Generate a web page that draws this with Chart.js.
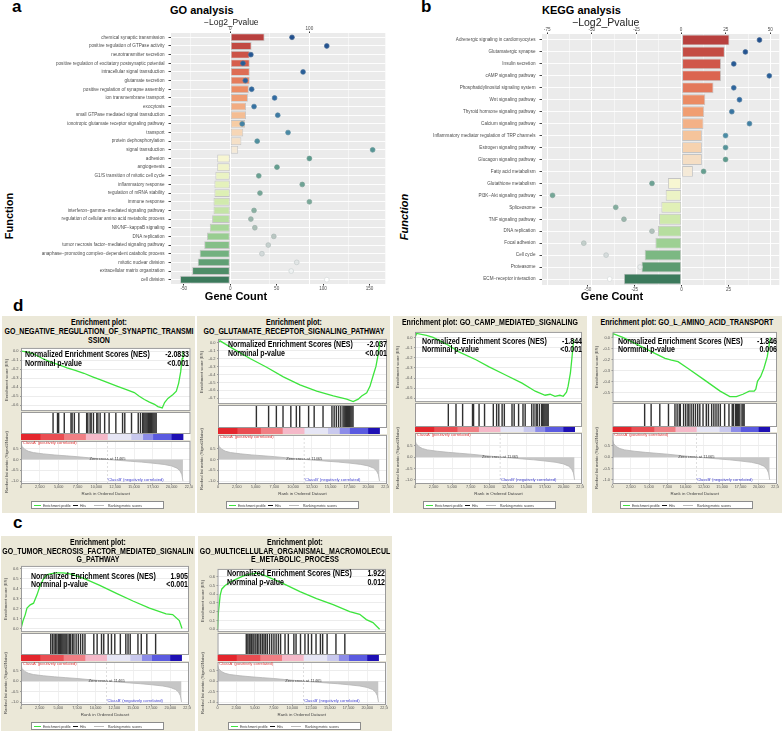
<!DOCTYPE html>
<html>
<head>
<meta charset="utf-8">
<title>GO / KEGG / GSEA</title>
<script src="https://cdn.jsdelivr.net/npm/chart.js@4.4.1/dist/chart.umd.min.js"></script>
<style>
  body { margin: 0; background: #fff; font-family: "Liberation Sans", Arial, sans-serif; }
  #page { position: relative; width: 784px; height: 731px; overflow: hidden; background: #fff; }
  .t { position: absolute; white-space: nowrap; line-height: 1; }
  .box { position: absolute; background: #ebe8d8; overflow: hidden; }
  canvas { position: absolute; }
  .lg { position: absolute; height: 6px; background: #fff; border: 1px solid #8c8c8c; }
  .sw { position: absolute; top: 3px; height: 0; border-top: 1px solid; }
</style>
</head>
<body>
<div id="page"></div>
<script>
// ---- panel a : GO analysis ----
const goTerms = ["chemical synaptic transmission", "positive regulation of GTPase activity", "neurotransmitter secretion",
  "positive regulation of excitatory postsynaptic potential", "intracellular signal transduction", "glutamate secretion",
  "positive regulation of synapse assembly", "ion transmembrane transport", "exocytosis",
  "small GTPase mediated signal transduction", "ionotropic glutamate receptor signaling pathway", "transport",
  "protein dephosphorylation", "signal transduction", "adhesion", "angiogenesis", "G1/S transition of mitotic cell cycle",
  "inflammatory response", "regulation of mRNA stability", "immune response", "interferon−gamma−mediated signaling pathway",
  "regulation of cellular amino acid metabolic process", "NIK/NF−kappaB signaling", "DNA replication",
  "tumor necrosis factor−mediated signaling pathway", "anaphase−promoting complex−dependent catabolic process",
  "mitotic nuclear division", "extracellular matrix organization", "cell division"];
const goGeneCount = [37, 23, 21, 21, 21, 21, 20, 19, 17, 17, 16, 14, 12, 8.5,
  -14, -14, -16, -17, -17, -18, -18, -19.5, -22, -25, -28, -33, -35, -41, -54];
const goLog2P = [78, 122, 26, 16, 92, 19, 27, 56, 30, 60, 15, 73, 34, 180,
  100, 59, 36, 91, 37.5, 100, 30, 26, 31, 55, 48, 40, 84, 77, 122];
const goGeneTicks = [-50, 0, 50, 100, 150];
const goPvalTicks = [0, 100];
const goPvalGrid = [-50, 0, 50, 100, 150];

// ---- panel b : KEGG analysis ----
const keggTerms = ["Adrenergic signaling in cardiomyocytes", "Glutamatergic synapse", "Insulin secretion",
  "cAMP signaling pathway", "Phosphatidylinositol signaling system", "Wnt signaling pathway",
  "Thyroid hormone signaling pathway", "Calcium signaling pathway", "Inflammatory mediator regulation of TRP channels",
  "Estrogen signaling pathway", "Glucagon signaling pathway", "Fatty acid metabolism", "Glutathione metabolism",
  "PI3K−Akt signaling pathway", "Spliceosome", "TNF signaling pathway", "DNA replication", "Focal adhesion",
  "Cell cycle", "Proteasome", "ECM−receptor interaction"];
const keggGeneCount = [25.5, 23, 21, 21, 17, 12.6, 12, 11.7, 10.8, 10.8, 10.8, 6,
  -7.3, -8.5, -10.8, -12, -12.6, -14, -19.7, -21.4, -30.8];
const keggLog2P = [43.9, 36, 29.5, 49.4, 29.5, 32.7, 28.4, 38.3, 24.9, 24.9, 24.9, 12.6,
  -16.3, -72, -36.6, -32, -16.3, -54.5, -42, -23, -40];
const keggGeneTicks = [-50, -25, 0, 25];
const keggPvalTicks = [-75, -50, -25, 0, 25, 50];
const keggPvalGrid = [-75, -62.5, -50, -37.5, -25, -12.5, 0, 12.5, 25, 37.5, 50];

// ---- GSEA : shared ranked list ----
const rankTicks = [0, 2500, 5000, 7500, 10000, 12500, 15000, 17500, 20000, 22500];
const metricRank = [0, 150, 500, 1000, 1650, 3000, 4500, 6000, 7500, 9000, 10500, 11465, 13000, 14500, 16000, 17500, 19000, 20000, 20700, 21100, 21350, 21500];
const metricScore = [0.75, 0.6, 0.47, 0.38, 0.32, 0.26, 0.21, 0.17, 0.13, 0.08, 0.03, 0, -0.04, -0.08, -0.12, -0.17, -0.23, -0.3, -0.4, -0.52, -0.7, -1.0];
const metricTicks = [0.5, 0, -0.5, -1];
const zeroCross = 11465;
const cbEdges = [0, 2540, 5670, 8570, 11470, 14600, 16160, 17500, 19950, 21510];
const cbColors = ['#e4262d', '#ea4d52', '#f07f84', '#f5b9c9', '#e6e6f5', '#c9c9ee', '#8c8ce8', '#5a5ae0', '#1e10b4'];

// d1 negative regulation of synaptic transmission
const negSynRank = [0, 760, 1650, 2800, 3880, 5000, 6120, 7200, 8350, 9500, 10580, 11700, 12810, 13900, 15040, 15700, 16380, 17050, 17720, 18170, 18750, 19060, 19500, 20180, 20620, 20930, 21200, 21380, 21500];
const negSynES = [0, -0.01, -0.03, -0.08, -0.12, -0.15, -0.185, -0.215, -0.246, -0.285, -0.32, -0.355, -0.39, -0.425, -0.46, -0.5, -0.536, -0.565, -0.59, -0.615, -0.63, -0.57, -0.525, -0.48, -0.445, -0.355, -0.228, -0.083, 0];
const negSynHits = [760, 1650, 1870, 2990, 4330, 4550, 5000, 5890, 7450, 7680, 8130, 8350, 8800, 9460, 9690, 10130, 11030, 11920, 13260, 14600, 15040, 16380, 17720, 18170, 18610, 18830, 19060, 19280, 19500, 19730, 19950, 20170, 20400, 20620, 20840, 21060, 21290];
// d2 glutamate receptor signaling
const glutRank = [0, 270, 2040, 4260, 6480, 8700, 10910, 13140, 15350, 17130, 18000, 18670, 19130, 19800, 20230, 20670, 21030, 21340, 21560];
const glutES = [0, 0.02, -0.08, -0.2, -0.31, -0.43, -0.53, -0.61, -0.67, -0.71, -0.74, -0.71, -0.67, -0.63, -0.55, -0.41, -0.3, -0.14, 0.02];
const glutHits = [2040, 4480, 6030, 7360, 8920, 10020, 10690, 12470, 13580, 15350, 17130, 17570, 18010, 18460, 18900, 19340, 19570, 19790, 20010, 20230, 20460, 20680, 20900, 21120, 21340];
// d3 cAMP mediated signaling
const campRank = [0, 220, 1550, 2440, 4220, 5990, 8210, 9980, 12200, 14420, 16200, 17530, 18200, 18860, 19530, 19970, 20410, 20630, 20940, 21160, 21390];
const campES = [0, 0.04, 0.02, 0, -0.065, -0.145, -0.22, -0.29, -0.37, -0.45, -0.53, -0.57, -0.56, -0.58, -0.57, -0.58, -0.54, -0.48, -0.35, -0.19, -0.015];
const campHits = [1110, 2660, 4000, 6000, 6210, 7320, 8430, 10200, 10870, 11310, 11980, 12430, 13980, 14420, 15310, 16200, 16640, 17970, 18410, 18860, 19080, 19520, 19970, 20190, 20410, 20630, 20850, 21070, 21290];
// d4 L amino acid transport
const aminoRank = [0, 80, 1410, 3630, 5860, 7190, 8070, 8960, 10290, 12510, 14720, 16050, 16940, 17830, 18710, 19380, 19600, 19830, 20270, 20710, 21160, 21380, 21600];
const aminoES = [0, 0.035, 0, -0.073, -0.147, -0.19, -0.206, -0.22, -0.28, -0.383, -0.487, -0.537, -0.537, -0.516, -0.487, -0.487, -0.47, -0.398, -0.354, -0.28, -0.177, -0.088, 0];
const aminoHits = [970, 2300, 4080, 5860, 7190, 7630, 8070, 8290, 8960, 9400, 9850, 10060, 10510, 10950, 11390, 11850, 12290, 12950, 13620, 14060, 14720, 15170, 15610, 16050, 16500, 17380, 18270, 18940, 19170, 19600, 19830, 20050, 20270, 20500, 20940, 21160, 21380];
// c1 tumor necrosis factor mediated signaling
const tnfRank = [0, 260, 570, 800, 1240, 1680, 2130, 2570, 3010, 3460, 3900, 4790, 5670, 6560, 8330, 10550, 12780, 14990, 17210, 19430, 20310, 21200, 21560];
const tnfES = [0, 0.075, 0.14, 0.206, 0.238, 0.255, 0.336, 0.434, 0.5, 0.54, 0.55, 0.56, 0.56, 0.55, 0.506, 0.434, 0.353, 0.277, 0.206, 0.147, 0.14, 0.08, 0];
const tnfHits = [350, 700, 1020, 1330, 1590, 1900, 2130, 2350, 2570, 2790, 3010, 3230, 3460, 3810, 4120, 4340, 4700, 5010, 5450, 5890, 6340, 6780, 7230, 9000, 9670, 10550, 11000, 11890, 12550, 13220, 14330, 15430, 15880, 16320, 17870, 18540, 19650, 21420];
// c2 multicellular organismal macromolecule metabolic process
const multiRank = [0, 130, 360, 580, 1020, 1690, 2580, 3460, 4350, 5240, 6120, 8790, 11010, 13230, 15440, 17660, 18990, 19880, 20760, 21650];
const multiES = [0, 0.2, 0.39, 0.46, 0.5, 0.54, 0.575, 0.61, 0.63, 0.64, 0.62, 0.52, 0.43, 0.35, 0.28, 0.2, 0.17, 0.11, 0.075, 0];
const multiHits = [140, 450, 720, 900, 1160, 1470, 1690, 2050, 2360, 2670, 3030, 3380, 3690, 4000, 4350, 4800, 5240, 5680, 6120, 6570, 7010, 7900, 8560, 9670, 10110, 11000, 11890, 12550, 13220, 14110, 14990, 15440, 16330, 18100, 19880];

Chart.defaults.font.family = '"Liberation Sans", Arial, sans-serif';

const frame = {
  id: 'frame',
  beforeDraw(chart, args, opt) {
    if (!opt.bg) return;
    const a = chart.chartArea, ctx = chart.ctx;
    ctx.save();
    ctx.fillStyle = opt.bg;
    ctx.fillRect(a.left, a.top, a.right - a.left, a.bottom - a.top);
    ctx.restore();
  },
  afterDraw(chart, args, opt) {
    if (!opt.line) return;
    const a = chart.chartArea, ctx = chart.ctx;
    ctx.save();
    ctx.strokeStyle = opt.line;
    ctx.lineWidth = 1;
    ctx.strokeRect(a.left + 0.5, a.top + 0.5, a.right - a.left - 1, a.bottom - a.top - 1);
    ctx.restore();
  }
};
Chart.register(frame);

const page = document.getElementById('page');

function hex(c) { return [1, 3, 5].map(i => parseInt(c.slice(i, i + 2), 16)); }
function mix(stops, t) {
  for (let i = 1; i < stops.length; i++) {
    if (t <= stops[i][0]) {
      const f = (t - stops[i - 1][0]) / (stops[i][0] - stops[i - 1][0]);
      const a = hex(stops[i - 1][1]), b = hex(stops[i][1]);
      return '#' + a.map((v, k) => Math.round(v + (b[k] - v) * f).toString(16).padStart(2, '0')).join('');
    }
  }
  return stops[stops.length - 1][1];
}
const posStops = [[0, '#b8403e'], [0.25, '#d9604e'], [0.5, '#ef9468'], [0.75, '#f6c9a0'], [1, '#f5ead8']];
const negStops = [[0, '#f7f6d2'], [0.3, '#dcefb2'], [0.6, '#a3d596'], [0.8, '#6fae7d'], [1, '#3c7a5c']];
const dotStops = [[0, '#214f8e'], [0.25, '#2f6aa2'], [0.4, '#4a8ca6'], [0.5, '#5d9b8d'], [0.68, '#7aa999'], [0.78, '#a9bcb4'], [0.9, '#d6dcdc'], [1, '#ffffff']];

function txt(parent, s, x, y, o) {
  const e = document.createElement('div');
  e.className = 't';
  e.textContent = s;
  e.style.left = x + 'px';
  e.style.top = y + 'px';
  e.style.fontSize = o.size + 'px';
  if (o.bold) e.style.fontWeight = 'bold';
  if (o.italic) e.style.fontStyle = 'italic';
  e.style.color = o.color || '#000';
  const al = o.align || 'left';
  const tx = {left: '0%', center: '-50%', right: '-100%'}[al];
  const ox = {left: '0%', center: '50%', right: '100%'}[al];
  e.style.transformOrigin = ox + ' 50%';
  e.style.transform = 'translate(' + tx + ',-50%) scaleX(' + (o.sx || 1) + ')' + (o.rot ? ' rotate(' + o.rot + 'deg)' : '');
  parent.appendChild(e);
  return e;
}
function cv(parent, x, y, w, h) {
  const c = document.createElement('canvas');
  c.width = Math.round(w); c.height = Math.round(h);
  c.style.left = x + 'px'; c.style.top = y + 'px';
  c.style.width = Math.round(w) + 'px'; c.style.height = Math.round(h) + 'px';
  parent.appendChild(c);
  return c;
}
const quiet = {legend: {display: false}, tooltip: {enabled: false}};

// ggplot-like bar + dot panel
function ggPanel(o) {
  const n = o.terms.length;
  const pos = o.count.filter(v => v > 0).length;
  const barCols = o.count.map((v, i) => v > 0 ? mix(posStops, i / (pos - 1)) : mix(negStops, (i - pos) / (n - pos - 1)));
  const dotCols = o.terms.map((_, i) => mix(dotStops, i / (n - 1)));
  new Chart(cv(page, o.cx, o.cy, o.cw, o.ch), {
    type: 'bar',
    data: {
      labels: o.terms,
      datasets: [
        {type: 'line', data: o.pval, xAxisID: 'x2', showLine: false, pointRadius: 2.4,
          pointBackgroundColor: dotCols, pointBorderColor: dotCols.map(c => mix([[0, c], [1, '#8a9696']], 0.35)),
          pointBorderWidth: 0.7, order: 0},
        {data: o.count, xAxisID: 'x', backgroundColor: barCols, borderColor: '#c4c4c4', borderWidth: 0.9,
          borderSkipped: false, barPercentage: 0.9, categoryPercentage: 1, order: 1}
      ]
    },
    options: {
      indexAxis: 'y', responsive: false, devicePixelRatio: 1, animation: false, events: [],
      layout: {padding: {right: o.pr}},
      plugins: Object.assign({frame: {bg: '#ebebeb'}}, quiet),
      scales: {
        y: {type: 'category', grid: {color: '#fff', lineWidth: 0.9, offset: false, tickColor: '#333', tickLength: 2.5},
          border: {display: false}, ticks: {autoSkip: false, font: {size: 4.6}, color: '#4d4d4d', padding: 4},
          afterFit: s => { s.width = o.yw; }},
        x: {type: 'linear', position: 'bottom', min: o.gMin, max: o.gMax,
          afterBuildTicks: s => { s.ticks = o.gTicks.map(v => ({value: v})); },
          grid: {drawOnChartArea: false, tickColor: '#333', tickLength: 1.5}, border: {display: false},
          ticks: {font: {size: 4.6}, color: '#4d4d4d', padding: 0.5},
          afterFit: s => { s.height = o.bh; s.paddingLeft = 0; s.paddingRight = 0; }},
        x2: {type: 'linear', axis: 'x', position: 'top', min: o.pMin, max: o.pMax,
          afterBuildTicks: s => { s.ticks = o.pGrid.map(v => ({value: v})); },
          grid: {color: '#fff', lineWidth: c => o.pTicks.includes(c.tick.value) ? 1 : 0.5,
            tickColor: c => o.pTicks.includes(c.tick.value) ? '#333' : 'rgba(0,0,0,0)', tickLength: 1.5},
          border: {display: false},
          ticks: {font: {size: 4.6}, color: '#4d4d4d', padding: 0.5, callback: v => o.pTicks.includes(v) ? v : ''},
          afterFit: s => { s.height = o.th; s.paddingLeft = 0; s.paddingRight = 0; }}
      }
    }
  });
}

ggPanel({terms: goTerms, count: goGeneCount, pval: goLog2P, gTicks: goGeneTicks, pTicks: goPvalTicks, pGrid: goPvalGrid,
  cx: 28, cy: 24, cw: 362, ch: 270, yw: 143, pr: 2, th: 9, bh: 10, gMin: -63.8, gMax: 167, pMin: -75, pMax: 196});
ggPanel({terms: keggTerms, count: keggGeneCount, pval: keggLog2P, gTicks: keggGeneTicks, pTicks: keggPvalTicks, pGrid: keggPvalGrid,
  cx: 410, cy: 24, cw: 374, ch: 270, yw: 132, pr: 4, th: 10, bh: 9, gMin: -74.5, gMax: 52.1, pMin: -77.9, pMax: 55});

txt(page, 'a', 12, 6, {size: 17, bold: true});
txt(page, 'b', 421, 6, {size: 17, bold: true});
txt(page, 'd', 13, 305, {size: 17, bold: true});
txt(page, 'c', 13, 522, {size: 17, bold: true});
txt(page, 'GO analysis', 170, 10, {size: 11, bold: true});
txt(page, 'KEGG analysis', 542, 10, {size: 11, bold: true});
txt(page, '−Log2_Pvalue', 204, 22, {size: 8.5, color: '#222'});
txt(page, '−Log2_Pvalue', 572, 22, {size: 10.5, color: '#222'});
txt(page, 'Gene Count', 236, 296, {size: 11, bold: true, align: 'center'});
txt(page, 'Gene Count', 612, 296, {size: 11, bold: true, align: 'center'});
txt(page, 'Function', 9, 216, {size: 11, bold: true, align: 'center', rot: -90});
txt(page, 'Function', 403.5, 217, {size: 11, bold: true, italic: true, align: 'center', rot: -90});

// GSEA enrichment plot
function gsea(p) {
  const box = document.createElement('div');
  box.className = 'box';
  Object.assign(box.style, {left: p.x + 'px', top: p.y + 'px', width: p.w + 'px', height: p.h + 'px'});
  page.appendChild(box);
  const L = p.L, R = p.R, W = Math.ceil(R + 2);
  const big = {size: 9, bold: true, sx: 0.78};
  p.title.forEach((s, i) => txt(box, s, p.w / 2, p.titleY[i], Object.assign({align: 'center'}, big)));

  const [e0, e1] = p.esY;
  new Chart(cv(box, 0, e0 - 3, W, e1 - e0 + 6), {
    type: 'line',
    data: {datasets: [{data: p.rank.map((r, i) => ({x: r, y: p.score[i]})), borderColor: '#3de43d', borderWidth: 1.3, pointRadius: 0, tension: 0}]},
    options: {
      responsive: false, devicePixelRatio: 1, animation: false, events: [],
      layout: {padding: {top: 3, bottom: 3, left: 0, right: W - R}},
      plugins: Object.assign({frame: {bg: '#fff', line: '#9a9a9a'}}, quiet),
      scales: {
        x: {type: 'linear', min: 0, max: 22500, display: false},
        y: {min: p.esRange[0], max: p.esRange[1], afterBuildTicks: s => { s.ticks = p.esTicks.map(v => ({value: v})); },
          afterFit: s => { s.width = L; },
          ticks: {font: {size: 4}, color: '#555', padding: 1.5, callback: v => v.toFixed(1)},
          grid: {color: '#ececec', tickLength: 1, tickColor: '#999'}, border: {display: false}}
      }
    }
  });

  const [h0, h1] = p.hitsY;
  new Chart(cv(box, 0, h0, W, h1 - h0), {
    type: 'bar',
    data: {datasets: [{data: p.hits.map(r => ({x: r, y: 1})), backgroundColor: '#303030', barThickness: 0.75,
      grouped: false, borderWidth: 0}]},
    options: {
      responsive: false, devicePixelRatio: 1, animation: false, events: [],
      layout: {padding: {left: L, right: W - R, top: 0, bottom: 0}},
      plugins: Object.assign({frame: {bg: '#fff', line: '#9a9a9a'}}, quiet),
      scales: {x: {type: 'linear', min: 0, max: 22500, display: false}, y: {min: 0, max: 1, display: false}}
    }
  });

  const [c0, c1] = p.cbY;
  new Chart(cv(box, 0, c0, W, c1 - c0), {
    type: 'bar',
    data: {labels: [''], datasets: cbColors.map((col, i) => ({data: [cbEdges[i + 1] - cbEdges[i]], backgroundColor: col,
      borderWidth: 0, barPercentage: 1, categoryPercentage: 1}))},
    options: {
      indexAxis: 'y', responsive: false, devicePixelRatio: 1, animation: false, events: [],
      layout: {padding: {left: L, right: W - R, top: 0, bottom: 0}},
      plugins: Object.assign({frame: {bg: '#fff'}}, quiet),
      scales: {x: {stacked: true, min: 0, max: 22500, display: false}, y: {stacked: true, display: false}}
    }
  });

  const [m0, m1] = p.metricY;
  new Chart(cv(box, 0, m0 - 3, W, m1 - m0 + 3 + 13), {
    type: 'line',
    data: {datasets: [
      {data: metricRank.map((r, i) => ({x: r, y: metricScore[i]})), borderColor: '#b4b4b4', backgroundColor: '#c6c6c6',
        fill: 'origin', borderWidth: 0.8, pointRadius: 0},
      {data: [{x: zeroCross, y: p.metricRange[0]}, {x: zeroCross, y: p.metricRange[1]}], borderColor: '#c8c8c8',
        borderWidth: 0.6, borderDash: [2, 2], pointRadius: 0}
    ]},
    options: {
      responsive: false, devicePixelRatio: 1, animation: false, events: [],
      layout: {padding: {top: 3, right: W - R, left: 0, bottom: 0}},
      plugins: Object.assign({frame: {bg: '#fff', line: '#9a9a9a'}}, quiet),
      scales: {
        x: {type: 'linear', min: 0, max: 22500, afterBuildTicks: s => { s.ticks = rankTicks.map(v => ({value: v})); },
          afterFit: s => { s.height = 13; s.paddingLeft = 0; s.paddingRight = 0; },
          ticks: {font: {size: 3.8}, color: '#555', padding: 0, maxRotation: 0, autoSkip: false},
          grid: {color: '#f0f0f0', tickLength: 1, tickColor: '#999'}, border: {display: false},
          title: {display: true, text: 'Rank in Ordered Dataset', font: {size: 4.4}, color: '#444', padding: {top: 0, bottom: 1}}},
        y: {min: p.metricRange[0], max: p.metricRange[1], afterBuildTicks: s => { s.ticks = metricTicks.map(v => ({value: v})); },
          afterFit: s => { s.width = L; },
          ticks: {font: {size: 4}, color: '#555', padding: 1.5, callback: v => v.toFixed(1)},
          grid: {color: '#ececec', tickLength: 1, tickColor: '#999'}, border: {display: false}}
      }
    }
  });

  txt(box, 'Normalized Enrichment Scores (NES)', p.nesX, p.nesY[0], big);
  txt(box, 'Norminal p-value', p.nesX, p.nesY[1], big);
  txt(box, p.nes, p.nesR, p.nesY[0], Object.assign({align: 'right'}, big));
  txt(box, p.pval, p.nesR, p.nesY[1], Object.assign({align: 'right'}, big));
  txt(box, 'Enrichment score (ES)', 4.5, (e0 + e1) / 2, {size: 4.2, color: '#444', align: 'center', rot: -90});
  txt(box, 'Ranked list metric (Signal2Noise)', 4.5, (m0 + m1) / 2, {size: 4.2, color: '#444', align: 'center', rot: -90});
  const zy = m0 + (m1 - m0) * p.metricRange[1] / (p.metricRange[1] - p.metricRange[0]);
  txt(box, "'ClassA' (positively correlated)", L + 1, m0 + 2.5, {size: 4.1, color: '#e03a3a'});
  txt(box, "'ClassB' (negatively correlated)", L + (R - L) * 0.51, m1 - 4.5, {size: 4.1, color: '#4040d0'});
  txt(box, 'Zero cross at ' + zeroCross, L + (R - L) * 0.51, zy, {size: 4.1, color: '#444', align: 'center'});

  const lg = document.createElement('div');
  lg.className = 'lg';
  Object.assign(lg.style, {left: (p.w / 2 - 1.5 - 66) + 'px', top: (p.legY - 4) + 'px', width: '131px'});
  box.appendChild(lg);
  [['#3de43d', 2, 7, 'Enrichment profile', 11], ['#111', 41, 5, 'Hits', 48], ['#bbb', 62, 10, 'Ranking metric scores', 76]]
    .forEach(([col, sx, sw, label, lx]) => {
      const s = document.createElement('div');
      s.className = 'sw';
      Object.assign(s.style, {left: sx + 'px', width: sw + 'px', borderTopColor: col});
      lg.appendChild(s);
      txt(lg, label, lx, 3.5, {size: 4.3, color: '#333', sx: 0.8});
    });
}

gsea({x: 2, y: 316, w: 193, h: 197, L: 19, R: 188.5,
  title: ['Enrichment plot:', 'GO_NEGATIVE_REGULATION_OF_SYNAPTIC_TRANSMI', 'SSION'], titleY: [6, 15, 23.5],
  rank: negSynRank, score: negSynES, hits: negSynHits,
  esY: [31, 96], esRange: [-0.665, 0.035], esTicks: [0, -0.1, -0.2, -0.3, -0.4, -0.5, -0.6],
  hitsY: [96, 118], cbY: [118, 124], metricY: [124, 168], metricRange: [-1.136, 0.864],
  nes: '-2.0833', pval: '<0.001', nesX: 23, nesR: 187, nesY: [38, 47], legY: 189});
gsea({x: 197, y: 316, w: 193, h: 197, L: 21, R: 190,
  title: ['Enrichment plot:', 'GO_GLUTAMATE_RECEPTOR_SIGNALING_PATHWAY'], titleY: [6, 14.5],
  rank: glutRank, score: glutES, hits: glutHits,
  esY: [22, 89], esRange: [-0.772, 0.045], esTicks: [0, -0.1, -0.2, -0.3, -0.4, -0.5, -0.6, -0.7],
  hitsY: [89, 112], cbY: [112, 118], metricY: [118, 168], metricRange: [-1.136, 1.136],
  nes: '-2.037', pval: '<0.001', nesX: 31, nesR: 190, nesY: [28, 37], legY: 189});
gsea({x: 393, y: 316, w: 194, h: 197, L: 22, R: 189,
  title: ['Enrichment plot: GO_CAMP_MEDIATED_SIGNALING'], titleY: [6],
  rank: campRank, score: campES, hits: campHits,
  esY: [15, 87], esRange: [-0.6375, 0.055], esTicks: [0, -0.1, -0.2, -0.3, -0.4, -0.5, -0.6],
  hitsY: [87, 111], cbY: [111, 116], metricY: [116, 168], metricRange: [-1.187, 1.07],
  nes: '-1.844', pval: '<0.001', nesX: 29, nesR: 189, nesY: [25, 33], legY: 189});
gsea({x: 592, y: 316, w: 190, h: 197, L: 20.5, R: 185,
  title: ['Enrichment plot: GO_L_AMINO_ACID_TRANSPORT'], titleY: [6],
  rank: aminoRank, score: aminoES, hits: aminoHits,
  esY: [15, 87], esRange: [-0.587, 0.05], esTicks: [0, -0.1, -0.2, -0.3, -0.4, -0.5],
  hitsY: [87, 111], cbY: [111, 116], metricY: [116, 168], metricRange: [-1.187, 1.07],
  nes: '-1.846', pval: '0.006', nesX: 26, nesR: 185, nesY: [25, 33], legY: 189});
gsea({x: 1, y: 536, w: 194, h: 195, L: 20, R: 188,
  title: ['Enrichment plot:', 'GO_TUMOR_NECROSIS_FACTOR_MEDIATED_SIGNALIN', 'G_PATHWAY'], titleY: [6, 15, 23],
  rank: tnfRank, score: tnfES, hits: tnfHits,
  esY: [29, 97], esRange: [-0.036, 0.63], esTicks: [0, 0.1, 0.2, 0.3, 0.4, 0.5, 0.6],
  hitsY: [97, 119], cbY: [119, 125], metricY: [125, 169], metricRange: [-1.14, 0.925],
  nes: '1.905', pval: '<0.001', nesX: 30, nesR: 187, nesY: [40, 48], legY: 190});
gsea({x: 198, y: 536, w: 194, h: 195, L: 19.5, R: 188,
  title: ['Enrichment plot:', 'GO_MULTICELLULAR_ORGANISMAL_MACROMOLECUL', 'E_METABOLIC_PROCESS'], titleY: [6, 15, 23],
  rank: multiRank, score: multiES, hits: multiHits,
  esY: [32, 97], esRange: [-0.033, 0.689], esTicks: [0, 0.1, 0.2, 0.3, 0.4, 0.5, 0.6],
  hitsY: [97, 119], cbY: [119, 125], metricY: [125, 169], metricRange: [-1.14, 0.925],
  nes: '1.922', pval: '0.012', nesX: 29, nesR: 187, nesY: [37, 46], legY: 190});
</script>
</body>
</html>
